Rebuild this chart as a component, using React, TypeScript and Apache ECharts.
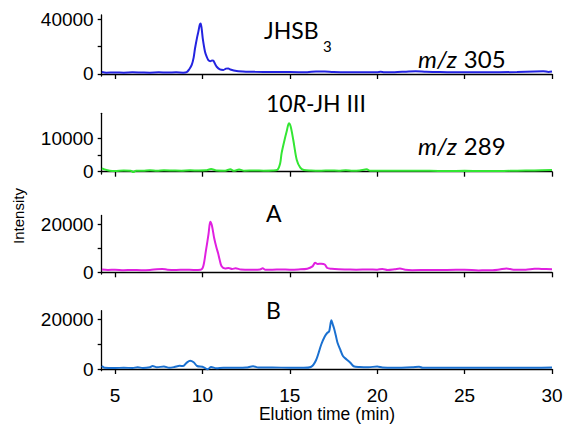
import React, { useEffect, useRef } from "react";
import * as echarts from "echarts";

const xTicks = [5, 10, 15, 20, 25, 30];

const jhsb3: [number, number][] = [
  [4.25, 1500], [4.5, 1000], [5, 1100], [5.5, 1000], [6, 1200], [6.5, 1100], [7, 1000], [7.5, 1200],
  [8, 1100], [8.5, 1200], [8.9, 1000], [9.1, 1300], [9.25, 3500], [9.39, 6600], [9.5, 12000],
  [9.58, 18800], [9.7, 27000], [9.77, 31000], [9.85, 36000], [9.9, 37000], [9.96, 33000],
  [10.02, 26100], [10.15, 16300], [10.25, 12500], [10.34, 10200], [10.45, 9400], [10.55, 9800],
  [10.62, 9700], [10.72, 7500], [10.82, 5300], [11.0, 3400], [11.2, 3000], [11.35, 3900],
  [11.48, 4100], [11.6, 3300], [11.96, 2200], [12.5, 1700], [13, 1600], [14, 1500], [15, 1400],
  [16, 1300], [16.5, 1900], [17, 1800], [17.5, 1400], [18, 1300], [19, 1200], [20, 1300],
  [20.2, 1600], [20.4, 1200], [21, 1300], [21.8, 1900], [22.2, 2000], [22.8, 1600], [23.5, 1400],
  [24, 1300], [25, 1300], [26, 1300], [27, 1300], [28, 1500], [29, 1900], [29.5, 2000],
  [29.8, 1500], [30, 1800],
];

const jh3: [number, number][] = [
  [4.25, 1000], [4.4, 700], [4.7, 300], [5, 200], [5.5, 350], [5.9, 300], [6.05, -100], [6.2, 300],
  [6.6, 250], [7, 450], [7.4, 250], [7.8, 400], [8.3, 350], [8.8, 300], [9.3, 400], [9.8, 350],
  [10.2, 400], [10.5, 800], [10.8, 350], [11.3, 300], [11.6, 700], [11.8, 250], [12.1, 650],
  [12.4, 300], [13, 350], [13.5, 300], [14, 350], [14.3, 600], [14.45, 2500], [14.53, 5500],
  [14.7, 9500], [14.82, 12000], [14.95, 14500], [15.05, 13500], [15.2, 9500], [15.4, 3500],
  [15.6, 1200], [15.8, 500], [16.2, 350], [16.8, 300], [17.3, 350], [17.8, 300], [18.2, 450],
  [18.6, 250], [19, 350], [19.4, 700], [19.6, 300], [20, 300], [21, 250], [22, 300], [23, 250],
  [24, 200], [25, 250], [26, 200], [27, 200], [28, 300], [29, 350], [30, 500],
];

const sampleA: [number, number][] = [
  [4.25, 1200], [4.6, 1000], [5, 1100], [5.5, 900], [6, 1000], [6.5, 900], [7, 1000], [7.4, 1300],
  [7.7, 1400], [8, 1100], [8.5, 1000], [9, 1100], [9.5, 1000], [9.9, 1100], [10.05, 2500],
  [10.2, 9000], [10.35, 16000], [10.45, 21200], [10.55, 19500], [10.67, 14500], [10.8, 10500],
  [10.9, 8000], [10.98, 5500], [11.1, 2500], [11.3, 1600], [11.5, 1800], [11.7, 1400],
  [11.9, 1700], [12.2, 1200], [12.8, 1100], [13.3, 1200], [13.45, 1700], [13.6, 1100], [14, 1100],
  [14.5, 1200], [15, 1100], [15.5, 1200], [16, 1500], [16.3, 2500], [16.45, 4000], [16.6, 3500],
  [16.8, 3600], [17.0, 3300], [17.15, 1800], [17.4, 1500], [17.8, 1300], [18.3, 1200],
  [18.8, 1100], [19.5, 1200], [20, 1100], [20.3, 1400], [20.6, 1000], [21, 1300], [21.3, 1600],
  [21.6, 1100], [22, 900], [23, 1000], [24, 1000], [25, 1100], [25.8, 800], [26.2, 900],
  [26.6, 900], [27, 1200], [27.4, 1600], [27.8, 1100], [28.5, 1100], [29, 1500], [29.4, 1400],
  [30, 1300],
];

const sampleB: [number, number][] = [
  [4.25, 1200], [4.4, 500], [5, 400], [5.5, 500], [6, 400], [6.3, 700], [6.6, 400], [7, 700],
  [7.15, 1200], [7.4, 700], [7.8, 1000], [8.1, 500], [8.4, 800], [8.7, 1300], [8.9, 1200],
  [9.1, 2500], [9.3, 3300], [9.5, 2700], [9.7, 1200], [10, 900], [10.3, -100], [10.5, 800],
  [10.8, 300], [11.2, 500], [12, 500], [12.5, 600], [12.9, 1100], [13.2, 600], [14, 600],
  [15, 500], [15.8, 500], [16.2, 800], [16.5, 3500], [16.8, 9800], [17.0, 13000], [17.15, 14500],
  [17.25, 15000], [17.38, 19500], [17.45, 18000], [17.53, 16300], [17.63, 13500], [17.73, 10500],
  [17.9, 7500], [18.04, 5200], [18.25, 3800], [18.45, 2600], [18.65, 1100], [19, 800],
  [19.5, 700], [20, 1000], [20.3, 600], [21, 500], [22, 700], [22.4, 900], [22.6, 500], [23, 500],
  [24, 500], [25, 500], [26, 500], [27, 500], [28, 500], [29, 500], [30, 600],
];

const seriesData = [jhsb3, jh3, sampleA, sampleB];
const seriesColors = ["#2323e0", "#33e633", "#e020e0", "#1a70d0"];
const yTickValues = [[0, 20000, 40000], [0, 5000, 10000], [0, 10000, 20000], [0, 10000, 20000]];
const yLabelValues = [[0, 40000], [0, 10000], [0, 20000], [0, 20000]];
const yRanges = [[-1463, 43145], [-689, 17485], [-714, 23866], [-680, 23320]];
const gridTops = [15, 113.3, 215.5, 310.7];
const gridHeights = [61, 60.7, 58.5, 60];

const FONT = "Liberation Sans, Arial, sans-serif";
const ANN = "Lato, sans-serif";

export default function App() {
  const ref = useRef<HTMLDivElement>(null);
  useEffect(() => {
    document.body.style.margin = "0";
    if (!ref.current) return;
    const chart = echarts.init(ref.current, null, { renderer: "svg" });
    const grids = gridTops.map((t, i) => ({ left: 101.7, right: 14, top: t, height: gridHeights[i] }));
    const xAxes = gridTops.map((_, i) => ({
      type: "value",
      gridIndex: i,
      min: 4.24,
      max: 30,
      axisLine: { lineStyle: { color: "#000", width: 1.3 } },
      axisTick: { show: true, length: 5, lineStyle: { color: "#000", width: 1.3 }, customValues: xTicks },
      axisLabel: {
        show: i === 3,
        customValues: xTicks,
        formatter: (v: number) => String(v),
        color: "#000",
        fontSize: 19,
        fontFamily: FONT,
        margin: 15,
      },
      splitLine: { show: false },
    }));
    const yAxes = gridTops.map((_, i) => ({
      type: "value",
      gridIndex: i,
      min: yRanges[i][0],
      max: yRanges[i][1],
      axisLine: { show: true, lineStyle: { color: "#000", width: 1.3 } },
      axisTick: { show: true, length: 4, lineStyle: { color: "#000", width: 1.3 }, customValues: yTickValues[i] },
      axisLabel: {
        customValues: yLabelValues[i],
        formatter: (v: number) => String(v),
        color: "#000",
        fontSize: 19,
        fontFamily: FONT,
        margin: 8,
      },
      splitLine: { show: false },
    }));
    const series = seriesData.map((d, i) => ({
      type: "line",
      xAxisIndex: i,
      yAxisIndex: i,
      data: d,
      showSymbol: false,
      smooth: 0.3,
      lineStyle: { color: seriesColors[i], width: 2 },
    }));
    chart.setOption({
      animation: false,
      grid: grids,
      xAxis: xAxes,
      yAxis: yAxes,
      series,
      graphic: [
        { type: "text", left: 264, top: 18, style: { text: "JHSB", font: `23px ${ANN}`, fill: "#000" } },
        { type: "text", left: 323, top: 38, style: { text: "3", font: `15px ${ANN}`, fill: "#000" } },
        {
          type: "text", left: 418, top: 46,
          style: {
            text: "{i|m/z}{n|305}", fill: "#000",
            rich: { i: { font: `italic 24px ${ANN}` }, n: { font: `24px ${ANN}`, padding: [0, 0, 0, 7] } },
          },
        },
        {
          type: "text", left: 266, top: 91,
          style: {
            text: "{n|10}{i|R}{n|-JH III}", fill: "#000",
            rich: { i: { font: `italic 23px ${ANN}` }, n: { font: `23px ${ANN}` } },
          },
        },
        {
          type: "text", left: 418, top: 133,
          style: {
            text: "{i|m/z}{n|289}", fill: "#000",
            rich: { i: { font: `italic 24px ${ANN}` }, n: { font: `24px ${ANN}`, padding: [0, 0, 0, 7] } },
          },
        },
        { type: "text", left: 266, top: 201, style: { text: "A", font: `23px ${ANN}`, fill: "#000" } },
        { type: "text", left: 266, top: 298, style: { text: "B", font: `23px ${ANN}`, fill: "#000" } },
        {
          type: "text", x: 18, y: 216, rotation: Math.PI / 2,
          style: { text: "Intensity", font: `15px ${FONT}`, fill: "#000", align: "center", verticalAlign: "middle" },
        },
        {
          type: "text", x: 327, y: 414,
          style: { text: "Elution time (min)", font: `17.5px ${FONT}`, fill: "#000", align: "center", verticalAlign: "middle" },
        },
      ],
    });
    return () => chart.dispose();
  }, []);
  return <div ref={ref} style={{ width: 566, height: 429 }} />;
}
